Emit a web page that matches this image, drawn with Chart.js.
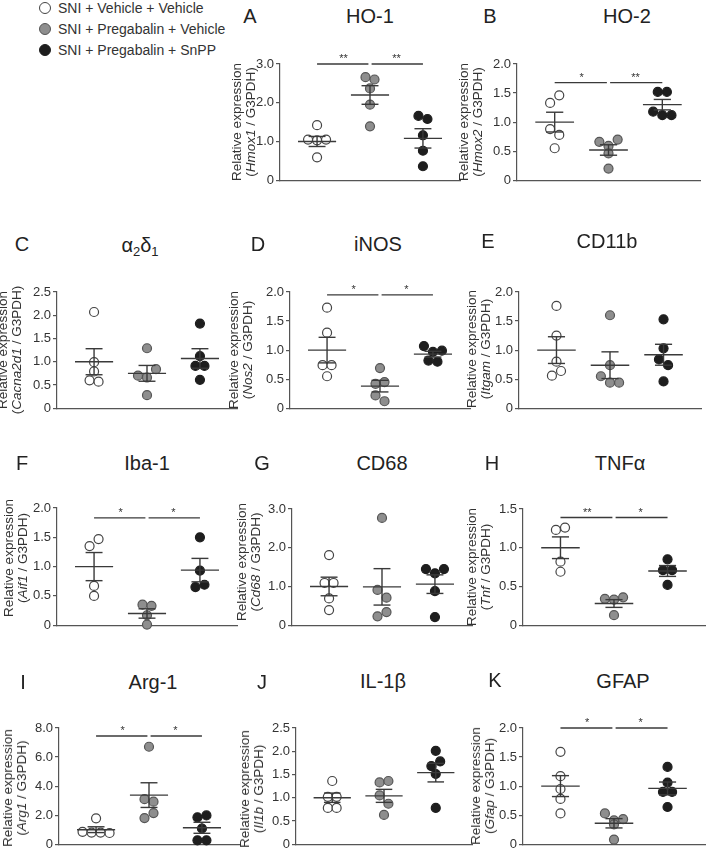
<!DOCTYPE html>
<html>
<head>
<meta charset="utf-8">
<script src="https://cdn.jsdelivr.net/npm/chart.js@4.4.0/dist/chart.umd.min.js"></script>
<style>
  body { margin: 0; width: 711px; height: 855px; background: #fff; position: relative; overflow: hidden;
         font-family: "Liberation Sans", Arial, sans-serif; color: #333; }
  canvas { position: absolute; }
  .letter, .title { position: absolute; font-size: 20px; color: #222; white-space: nowrap; transform: translate(-50%, -50%); }
  .title sub { font-size: 13px; vertical-align: -4px; }
  .ytitle { position: absolute; font-size: 13.5px; line-height: 14px; text-align: center; white-space: nowrap;
            transform: translate(-50%, -50%) rotate(-90deg); color: #333; }
  .legend { position: absolute; left: 39px; top: -3px; font-size: 14px; color: #333; }
  .legend div { height: 21px; display: flex; align-items: center; }
  .dot { width: 12px; height: 12px; border-radius: 50%; margin-right: 7px; box-sizing: border-box; }
</style>
</head>
<body>
<div class="legend">
  <div><span class="dot" style="background:#fff;border:1.5px solid #444"></span>SNI + Vehicle + Vehicle</div>
  <div><span class="dot" style="background:#8e8e8e;border:1.5px solid #555"></span>SNI + Pregabalin + Vehicle</div>
  <div><span class="dot" style="background:#1e1e1e;border:1.5px solid #1e1e1e"></span>SNI + Pregabalin + SnPP</div>
</div>
<script>
// ===================== DATA =====================

const groupNames = ['SNI + Vehicle + Vehicle', 'SNI + Pregabalin + Vehicle', 'SNI + Pregabalin + SnPP'];

// HO-1 (Hmox1)
const ho1Values = [[1.42, 1.05, 1.03, 1.05, 0.59], [2.66, 2.60, 2.37, 1.95, 1.39], [1.66, 1.58, 1.16, 0.76, 0.36]];
const ho1Mean = [1.0, 2.2, 1.08];
const ho1Sem = [0.13, 0.24, 0.25];
const ho1Ticks = [0, 1, 2, 3];

// HO-2 (Hmox2)
const ho2Values = [[1.33, 1.46, 0.88, 0.78, 0.55], [0.66, 0.59, 0.70, 0.46, 0.20], [1.52, 1.52, 1.18, 1.12, 1.12]];
const ho2Mean = [1.0, 0.52, 1.3];
const ho2Sem = [0.17, 0.09, 0.09];
const ho2Ticks = [0, 0.5, 1, 1.5, 2];

// a2d1 (Cacna2d1)
const a2d1Values = [[2.07, 0.99, 0.79, 0.60, 0.57], [1.29, 0.70, 0.66, 0.84, 0.28], [1.82, 1.12, 0.91, 0.91, 0.61]];
const a2d1Mean = [1.0, 0.75, 1.07];
const a2d1Sem = [0.28, 0.17, 0.21];
const a2d1Ticks = [0, 0.5, 1, 1.5, 2, 2.5];

// iNOS (Nos2)
const inosValues = [[1.73, 1.3, 0.74, 0.74, 0.55], [0.69, 0.42, 0.45, 0.22, 0.12], [1.07, 0.97, 0.99, 0.82, 0.80]];
const inosMean = [1.0, 0.38, 0.93];
const inosSem = [0.22, 0.1, 0.05];
const inosTicks = [0, 0.5, 1, 1.5, 2];

// CD11b (Itgam)
const cd11bValues = [[1.76, 1.25, 0.80, 0.56, 0.64], [1.60, 0.74, 0.55, 0.44, 0.44], [1.53, 1.03, 0.84, 0.74, 0.46]];
const cd11bMean = [1.0, 0.74, 0.92];
const cd11bSem = [0.23, 0.23, 0.18];
const cd11bTicks = [0, 0.5, 1, 1.5, 2];

// Iba-1 (Aif1)
const iba1Values = [[1.35, 1.47, 0.67, 0.50], [0.35, 0.33, 0.17, 0.01], [1.50, 0.93, 0.65, 0.69]];
const iba1Mean = [1.0, 0.2, 0.94];
const iba1Sem = [0.24, 0.08, 0.2];
const iba1Ticks = [0, 0.5, 1, 1.5, 2];

// CD68 (Cd68)
const cd68Values = [[1.81, 1.09, 1.09, 0.69, 0.39], [2.77, 0.91, 0.71, 0.23, 0.34], [1.45, 1.34, 1.45, 0.88, 0.21]];
const cd68Mean = [1.0, 0.99, 1.06];
const cd68Sem = [0.24, 0.47, 0.24];
const cd68Ticks = [0, 1, 2, 3];

// TNFa (Tnf)
const tnfValues = [[1.23, 1.26, 0.82, 0.69], [0.34, 0.33, 0.36, 0.13], [0.85, 0.71, 0.71, 0.52]];
const tnfMean = [1.0, 0.28, 0.7];
const tnfSem = [0.14, 0.05, 0.07];
const tnfTicks = [0, 0.5, 1, 1.5];

// Arg-1 (Arg1)
const arg1Values = [[1.78, 0.85, 0.80, 0.80, 0.77], [6.71, 3.10, 2.93, 1.80, 2.14], [1.85, 1.98, 1.08, 0.27, 0.27]];
const arg1Mean = [1.0, 3.38, 1.13];
const arg1Sem = [0.2, 0.85, 0.38];
const arg1Ticks = [0, 2, 4, 6, 8];

// IL-1b (Il1b)
const il1bValues = [[1.36, 1.02, 1.02, 0.78, 0.78], [1.33, 1.36, 1.05, 0.87, 0.63], [2.01, 1.68, 1.78, 1.51, 0.78]];
const il1bMean = [1.0, 1.04, 1.54];
const il1bSem = [0.1, 0.14, 0.2];
const il1bTicks = [0, 0.5, 1, 1.5, 2, 2.5];

// GFAP (Gfap)
const gfapValues = [[1.59, 1.17, 0.95, 0.78, 0.53], [0.53, 0.41, 0.43, 0.34, 0.08], [1.33, 1.06, 0.90, 0.90, 0.64]];
const gfapMean = [1.0, 0.36, 0.96];
const gfapSem = [0.18, 0.08, 0.11];
const gfapTicks = [0, 0.5, 1, 1.5, 2];

// ===================== LAYOUT =====================

// box = [left, top, width, height] of the plot area
const panels = [
  { letter: 'A', title: 'HO-1', gene: 'Hmox1', values: ho1Values, mean: ho1Mean, sem: ho1Sem, ticks: ho1Ticks,
    stars: ['**', '**'], sigAt: 3.0, box: [280, 64, 180, 119], letterAt: [250, 16], titleAt: [370, 16], yTitleAt: [244, 122] },
  { letter: 'B', title: 'HO-2', gene: 'Hmox2', values: ho2Values, mean: ho2Mean, sem: ho2Sem, ticks: ho2Ticks,
    stars: ['*', '**'], sigAt: 1.68, box: [517, 64, 183, 119], letterAt: [490, 16], titleAt: [627, 16], yTitleAt: [471, 122] },
  { letter: 'C', title: 'α<sub>2</sub>δ<sub>1</sub>', gene: 'Cacna2d1', values: a2d1Values, mean: a2d1Mean, sem: a2d1Sem, ticks: a2d1Ticks,
    stars: null, box: [57, 292, 180, 119], letterAt: [22, 244], titleAt: [140, 246], yTitleAt: [10, 350] },
  { letter: 'D', title: 'iNOS', gene: 'Nos2', values: inosValues, mean: inosMean, sem: inosSem, ticks: inosTicks,
    stars: ['*', '*'], sigAt: 1.95, box: [290, 292, 180, 119], letterAt: [258, 244], titleAt: [378, 244], yTitleAt: [241, 350] },
  { letter: 'E', title: 'CD11b', gene: 'Itgam', values: cd11bValues, mean: cd11bMean, sem: cd11bSem, ticks: cd11bTicks,
    stars: null, box: [519, 292, 182, 119], letterAt: [488, 241], titleAt: [607, 241], yTitleAt: [479, 349] },
  { letter: 'F', title: 'Iba-1', gene: 'Aif1', values: iba1Values, mean: iba1Mean, sem: iba1Sem, ticks: iba1Ticks,
    stars: ['*', '*'], sigAt: 1.83, box: [57, 508, 180, 120], letterAt: [22, 463], titleAt: [147, 463], yTitleAt: [16, 558] },
  { letter: 'G', title: 'CD68', gene: 'Cd68', values: cd68Values, mean: cd68Mean, sem: cd68Sem, ticks: cd68Ticks,
    stars: null, box: [292, 509, 180, 119], letterAt: [262, 463], titleAt: [382, 463], yTitleAt: [249, 562] },
  { letter: 'H', title: 'TNFα', gene: 'Tnf', values: tnfValues, mean: tnfMean, sem: tnfSem, ticks: tnfTicks,
    stars: ['**', '*'], sigAt: 1.39, box: [523, 509, 182, 119], letterAt: [492, 463], titleAt: [620, 463], yTitleAt: [479, 567] },
  { letter: 'I', title: 'Arg-1', gene: 'Arg1', values: arg1Values, mean: arg1Mean, sem: arg1Sem, ticks: arg1Ticks,
    stars: ['*', '*'], sigAt: 7.45, box: [59, 728, 180, 119], letterAt: [23, 682], titleAt: [153, 682], yTitleAt: [15, 788] },
  { letter: 'J', title: 'IL-1β', gene: 'Il1b', values: il1bValues, mean: il1bMean, sem: il1bSem, ticks: il1bTicks,
    stars: null, box: [296, 728, 176, 119], letterAt: [262, 682], titleAt: [383, 681], yTitleAt: [252, 789] },
  { letter: 'K', title: 'GFAP', gene: 'Gfap', values: gfapValues, mean: gfapMean, sem: gfapSem, ticks: gfapTicks,
    stars: ['*', '*'], sigAt: 2.0, box: [523, 728, 182, 119], letterAt: [495, 680], titleAt: [623, 681], yTitleAt: [483, 786] },
];

const fills = ['#ffffff', '#8e8e8e', '#1e1e1e'];
const strokes = ['#444444', '#555555', '#1e1e1e'];
const axisColor = '#555';
const lineColor = '#3a3a3a';

Chart.defaults.font.family = '"Liberation Sans", Arial, sans-serif';
Chart.defaults.animation = false;

// ===================== HELPERS =====================

// Spread points with close values side by side (GraphPad-like rows)
function swarm(vals, center, pxPerUnit) {
  const dx = 0.17;
  const order = vals.map((v, i) => i).sort((a, b) => vals[b] - vals[a]);
  const out = [];
  let row = [];
  const flush = () => {
    row.sort((a, b) => a - b).forEach((i, k) => {
      out.push({ x: center + (k - (row.length - 1) / 2) * dx, y: vals[i] });
    });
    row = [];
  };
  order.forEach(i => {
    if (row.length && (vals[row[0]] - vals[i]) * pxPerUnit > 9) flush();
    row.push(i);
  });
  flush();
  return out;
}

function segment(data, width) {
  return { type: 'scatter', data, showLine: true, borderColor: lineColor, borderWidth: width || 1.4,
           pointRadius: 0, clip: false, order: 0 };
}

// Stars over the significance bars
const starPlugin = {
  id: 'stars',
  afterDatasetsDraw(chart, args, opts) {
    if (!opts.marks) return;
    const { ctx, scales: { x, y } } = chart;
    ctx.save();
    ctx.fillStyle = '#333';
    ctx.font = '11px "Liberation Sans", Arial, sans-serif';
    ctx.textAlign = 'center';
    opts.marks.forEach(m => ctx.fillText(m.text, x.getPixelForValue(m.x), y.getPixelForValue(m.y) - 2));
    ctx.restore();
  }
};

function addText(cls, html, at) {
  const el = document.createElement('div');
  el.className = cls;
  el.innerHTML = html;
  el.style.left = at[0] + 'px';
  el.style.top = at[1] + 'px';
  document.body.appendChild(el);
}

// ===================== PANELS =====================

function makePanel(p) {
  const [bx, by, bw, bh] = p.box;
  const padL = 45, padT = 16, padR = 6, padB = 7;
  const canvas = document.createElement('canvas');
  canvas.width = bw + padL + padR;
  canvas.height = bh + padT + padB;
  canvas.style.left = (bx - padL) + 'px';
  canvas.style.top = (by - padT) + 'px';
  document.body.appendChild(canvas);

  const ymax = p.ticks[p.ticks.length - 1];
  const pxPerUnit = bh / ymax;
  const datasets = [];

  p.mean.forEach((m, g) => {
    const c = g + 1, s = p.sem[g];
    datasets.push(segment([{ x: c - 0.36, y: m }, { x: c + 0.36, y: m }]));
    datasets.push(segment([{ x: c, y: m - s }, { x: c, y: m + s }]));
    datasets.push(segment([{ x: c - 0.16, y: m + s }, { x: c + 0.16, y: m + s }]));
    datasets.push(segment([{ x: c - 0.16, y: m - s }, { x: c + 0.16, y: m - s }]));
  });

  p.values.forEach((vals, g) => {
    datasets.push({
      type: 'scatter', label: groupNames[g], data: swarm(vals, g + 1, pxPerUnit),
      pointRadius: 4.5, pointBackgroundColor: fills[g], pointBorderColor: strokes[g], pointBorderWidth: 1.2,
      clip: false, order: 1
    });
  });

  let marks = null;
  if (p.stars) {
    datasets.push(segment([{ x: 1, y: p.sigAt }, { x: 1.97, y: p.sigAt }], 1.3));
    datasets.push(segment([{ x: 2.03, y: p.sigAt }, { x: 3, y: p.sigAt }], 1.3));
    marks = [{ text: p.stars[0], x: 1.5, y: p.sigAt }, { text: p.stars[1], x: 2.5, y: p.sigAt }];
  }

  new Chart(canvas, {
    type: 'scatter',
    data: { datasets },
    options: {
      responsive: false,
      layout: { padding: { top: padT, right: padR, bottom: padB, left: 0 } },
      plugins: { legend: { display: false }, tooltip: { enabled: false }, stars: { marks } },
      scales: {
        x: {
          type: 'linear', min: 0.3, max: 3.7,
          grid: { display: false },
          border: { display: true, color: axisColor, width: 1.2 },
          ticks: { display: false },
          afterFit: s => { s.height = 0; }
        },
        y: {
          min: 0, max: ymax,
          afterBuildTicks: s => { s.ticks = p.ticks.map(v => ({ value: v })); },
          ticks: {
            callback: v => (v === 0 ? '0' : v.toFixed(1)),
            font: { size: 13 }, color: '#333', padding: 2
          },
          grid: { drawOnChartArea: false, tickLength: 4, color: axisColor, lineWidth: 1.2 },
          border: { color: axisColor, width: 1.2 },
          afterFit: s => { s.width = padL; }
        }
      }
    },
    plugins: [starPlugin]
  });

  addText('letter', p.letter, p.letterAt);
  addText('title', p.title, p.titleAt);
  addText('ytitle', 'Relative expression<br>(<i>' + p.gene + '</i> / G3PDH)', p.yTitleAt);
}

panels.forEach(makePanel);
</script>
</body>
</html>
